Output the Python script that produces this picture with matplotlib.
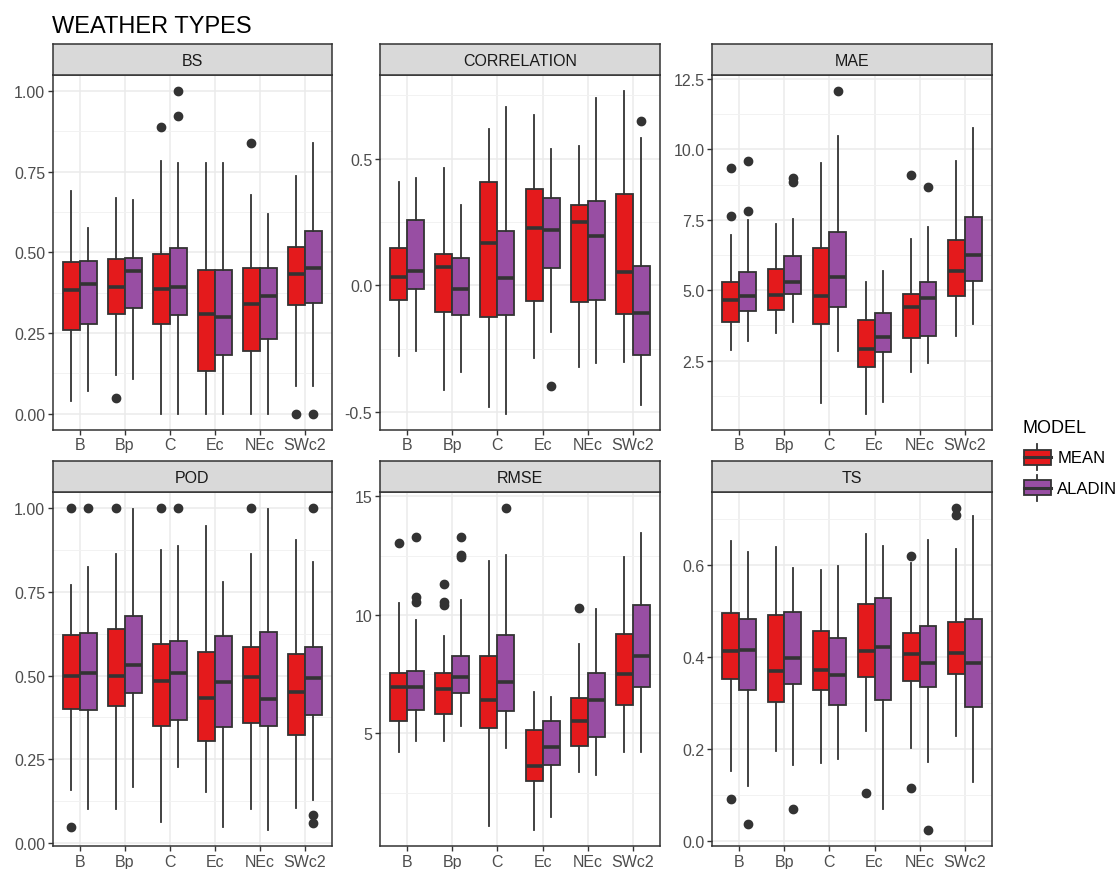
import matplotlib
matplotlib.use("Agg")
import matplotlib.pyplot as plt
from matplotlib.patches import Rectangle, Patch
from matplotlib.lines import Line2D
from matplotlib.legend_handler import HandlerBase
from matplotlib.ticker import FixedLocator, FormatStrFormatter

plt.rcParams['font.family'] = ['Liberation Sans', 'DejaVu Sans']

categories = ["B", "Bp", "C", "Ec", "NEc", "SWc2"]
models = ["MEAN", "ALADIN"]
model_colors = ["#E41A1C", "#984EA3"]

# (lower whisker, Q1, median, Q3, upper whisker) per weather type
bs_mean = [(0.040, 0.260, 0.382, 0.470, 0.690), (0.119, 0.309, 0.392, 0.479, 0.668),
           (0.000, 0.278, 0.387, 0.494, 0.783), (0.000, 0.133, 0.309, 0.444, 0.776),
           (0.000, 0.195, 0.340, 0.451, 0.678), (0.085, 0.337, 0.434, 0.517, 0.737)]
bs_aladin = [(0.069, 0.278, 0.401, 0.472, 0.575), (0.106, 0.327, 0.442, 0.484, 0.661),
             (0.000, 0.306, 0.393, 0.515, 0.776), (0.000, 0.181, 0.298, 0.444, 0.776),
             (0.000, 0.232, 0.366, 0.451, 0.619), (0.087, 0.343, 0.453, 0.567, 0.840)]
bs_mean_out = [[], [0.049], [0.890], [], [0.840], [0.0]]
bs_aladin_out = [[], [], [1.0, 0.924], [], [], [0.0]]

cor_mean = [(-0.279, -0.059, 0.034, 0.147, 0.409), (-0.413, -0.104, 0.071, 0.125, 0.464),
            (-0.482, -0.123, 0.168, 0.409, 0.619), (-0.288, -0.062, 0.228, 0.379, 0.674),
            (-0.321, -0.066, 0.249, 0.317, 0.549), (-0.301, -0.111, 0.054, 0.360, 0.767)]
cor_aladin = [(-0.260, -0.013, 0.056, 0.257, 0.425), (-0.342, -0.115, -0.016, 0.107, 0.319),
              (-0.506, -0.115, 0.028, 0.216, 0.706), (-0.185, 0.068, 0.220, 0.346, 0.540),
              (-0.308, -0.059, 0.197, 0.333, 0.740), (-0.473, -0.274, -0.109, 0.075, 0.582)]
cor_mean_out = [[], [], [], [], [], []]
cor_aladin_out = [[], [], [], [-0.397], [], [0.651]]

mae_mean = [(2.87, 3.87, 4.66, 5.29, 6.97), (3.48, 4.31, 4.82, 5.76, 7.36),
            (1.00, 3.80, 4.78, 6.50, 9.53), (0.62, 2.28, 2.91, 3.95, 5.29),
            (2.09, 3.30, 4.39, 4.86, 6.83), (3.36, 4.80, 5.69, 6.80, 9.60)]
mae_aladin = [(3.19, 4.27, 4.80, 5.64, 7.48), (3.87, 4.86, 5.30, 6.20, 7.52),
              (2.85, 4.40, 5.47, 7.05, 10.49), (1.03, 2.81, 3.35, 4.18, 5.69),
              (2.42, 3.39, 4.72, 5.29, 7.24), (3.80, 5.34, 6.26, 7.59, 10.75)]
mae_mean_out = [[7.65, 9.34], [], [], [], [9.08], []]
mae_aladin_out = [[7.80, 9.58], [8.84, 8.98], [12.07], [], [8.67], []]

pod_mean = [(0.160, 0.400, 0.499, 0.622, 0.770), (0.101, 0.408, 0.500, 0.638, 0.862),
            (0.063, 0.349, 0.484, 0.593, 0.874), (0.154, 0.304, 0.433, 0.569, 0.946),
            (0.101, 0.360, 0.497, 0.586, 0.862), (0.106, 0.324, 0.450, 0.563, 0.904)]
pod_aladin = [(0.101, 0.398, 0.509, 0.628, 0.825), (0.167, 0.448, 0.530, 0.677, 0.997),
              (0.226, 0.369, 0.509, 0.603, 0.887), (0.048, 0.347, 0.482, 0.618, 0.778),
              (0.040, 0.349, 0.431, 0.630, 0.997), (0.130, 0.383, 0.494, 0.586, 0.837)]
pod_mean_out = [[1.0, 0.049], [1.0], [1.0], [], [1.0], []]
pod_aladin_out = [[1.0], [], [1.0], [], [], [1.0, 0.085, 0.061]]

rmse_mean = [(4.23, 5.52, 6.97, 7.53, 10.52), (4.69, 5.84, 6.87, 7.53, 9.10),
             (1.10, 5.25, 6.40, 8.27, 12.26), (0.93, 3.01, 3.62, 5.14, 6.73),
             (3.38, 4.47, 5.52, 6.50, 8.79), (4.23, 6.22, 7.49, 9.21, 12.44)]
rmse_aladin = [(4.69, 5.98, 6.97, 7.65, 9.78), (5.31, 6.69, 7.39, 8.27, 10.65),
               (4.37, 5.94, 7.18, 9.17, 12.51), (1.46, 3.67, 4.41, 5.53, 6.54),
               (3.24, 4.86, 6.40, 7.57, 10.24), (4.23, 6.97, 8.27, 10.44, 13.47)]
rmse_mean_out = [[13.05], [11.32, 10.55, 10.44], [], [], [10.31], []]
rmse_aladin_out = [[13.30, 10.76, 10.55], [13.27, 12.51, 12.44], [14.52], [], [], []]

ts_mean = [(0.153, 0.353, 0.413, 0.497, 0.653), (0.196, 0.303, 0.370, 0.493, 0.640),
           (0.171, 0.328, 0.373, 0.458, 0.590), (0.241, 0.358, 0.413, 0.515, 0.668),
           (0.202, 0.348, 0.407, 0.452, 0.606), (0.229, 0.364, 0.410, 0.477, 0.636)]
ts_aladin = [(0.120, 0.328, 0.415, 0.484, 0.629), (0.166, 0.342, 0.399, 0.499, 0.595),
             (0.180, 0.296, 0.362, 0.441, 0.599), (0.070, 0.308, 0.423, 0.528, 0.643),
             (0.172, 0.335, 0.387, 0.468, 0.655), (0.130, 0.293, 0.387, 0.483, 0.708)]
ts_mean_out = [[0.092], [], [], [0.105], [0.620, 0.115], [0.725, 0.709]]
ts_aladin_out = [[0.037], [0.070], [], [], [0.025], []]

panels = [
    ("BS", bs_mean, bs_aladin, bs_mean_out, bs_aladin_out, [0, 0.25, 0.5, 0.75, 1.0], "%.2f"),
    ("CORRELATION", cor_mean, cor_aladin, cor_mean_out, cor_aladin_out, [-0.5, 0.0, 0.5], "%.1f"),
    ("MAE", mae_mean, mae_aladin, mae_mean_out, mae_aladin_out, [2.5, 5.0, 7.5, 10.0, 12.5], "%.1f"),
    ("POD", pod_mean, pod_aladin, pod_mean_out, pod_aladin_out, [0, 0.25, 0.5, 0.75, 1.0], "%.2f"),
    ("RMSE", rmse_mean, rmse_aladin, rmse_mean_out, rmse_aladin_out, [5, 10, 15], "%d"),
    ("TS", ts_mean, ts_aladin, ts_mean_out, ts_aladin_out, [0.0, 0.2, 0.4, 0.6], "%.1f"),
]

W, H = 1120, 870
fig = plt.figure(figsize=(W / 100, H / 100), dpi=100)


def box(l, t, r, b):
    return [l / W, 1 - b / H, (r - l) / W, (b - t) / H]


cols = [(52.7, 331.7), (380, 660), (712.3, 991.7)]
rows = [(45, 76, 430.7), (461.7, 492.7, 847)]
dark = "#333333"
box_w = 0.375


def make_stats(five, outs):
    return [dict(whislo=f[0], q1=f[1], med=f[2], q3=f[3], whishi=f[4], fliers=o)
            for f, o in zip(five, outs)]


for i, (name, mean5, ala5, mean_out, ala_out, yt, fmt) in enumerate(panels):
    l, r = cols[i % 3]
    st, pt, pb = rows[i // 3]
    ax = fig.add_axes(box(l, pt, r, pb))
    strip = fig.add_axes(box(l, st, r, pt))
    strip.set_facecolor("#D9D9D9")
    strip.set_xticks([])
    strip.set_yticks([])
    for s in strip.spines.values():
        s.set_color(dark)
        s.set_linewidth(1.1)
    strip.text(0.5, 0.47, name, ha="center", va="center", fontsize=11.5, color="#1A1A1A",
               transform=strip.transAxes)

    pos = list(range(1, len(categories) + 1))
    for k, (five, outs) in enumerate([(mean5, mean_out), (ala5, ala_out)]):
        offs = -box_w / 2 if k == 0 else box_w / 2
        ax.bxp(make_stats(five, outs), positions=[p + offs for p in pos], widths=box_w,
               patch_artist=True, showcaps=False,
               boxprops=dict(facecolor=model_colors[k], edgecolor=dark, linewidth=1.3),
               medianprops=dict(color=dark, linewidth=2.6, solid_capstyle="butt"),
               whiskerprops=dict(color=dark, linewidth=1.3),
               flierprops=dict(marker="o", markerfacecolor=dark, markeredgecolor=dark,
                               markersize=6))

    allv = [v for f in mean5 + ala5 for v in f] + [v for o in mean_out + ala_out for v in o]
    lo, hi = min(allv), max(allv)
    pad = (hi - lo) * 0.05
    ax.set_ylim(lo - pad, hi + pad)
    ax.set_xlim(0.4, 6.6)
    ax.set_xticks(pos)
    ax.set_xticklabels(categories)
    ax.yaxis.set_major_locator(FixedLocator(yt))
    ax.yaxis.set_major_formatter(FormatStrFormatter(fmt))
    step = yt[1] - yt[0]
    minors = [yt[0] - step / 2] + [v + step / 2 for v in yt]
    ax.yaxis.set_minor_locator(FixedLocator(minors))
    ax.grid(True, which="major", color="#EBEBEB", linewidth=1.1)
    ax.grid(True, which="minor", axis="y", color="#F2F2F2", linewidth=0.7)
    ax.set_axisbelow(True)
    ax.tick_params(which="major", length=3.5, width=1.0, color=dark, labelsize=11.5,
                   labelcolor="#4D4D4D", pad=2)
    ax.tick_params(which="minor", length=0)
    for s in ax.spines.values():
        s.set_color(dark)
        s.set_linewidth(1.1)

fig.text(52 / W, 1 - 33 / H, "WEATHER TYPES", fontsize=17, ha="left", va="baseline")


class BoxKey(HandlerBase):
    def create_artists(self, legend, orig, xd, yd, w, h, fontsize, trans):
        x0, y0 = -xd, -yd
        arts = [Line2D([x0 + w / 2] * 2, [y0 + h * 0.08, y0 + h * 0.25], color=dark, lw=1.3,
                       transform=trans),
                Line2D([x0 + w / 2] * 2, [y0 + h * 0.75, y0 + h * 0.92], color=dark, lw=1.3,
                       transform=trans),
                Rectangle((x0, y0 + h * 0.25), w, h * 0.5, facecolor=orig.get_facecolor(),
                          edgecolor=dark, lw=1.3, transform=trans),
                Line2D([x0, x0 + w], [y0 + h / 2] * 2, color=dark, lw=2.2, transform=trans)]
        return arts


fig.text(1022 / W, 1 - 433 / H, "MODEL", fontsize=13, ha="left", va="baseline")
handles = [Patch(facecolor=c, label=m) for m, c in zip(models, model_colors)]
fig.legend(handles=handles, labels=models, loc="upper left",
           bbox_to_anchor=(1024 / W, 1 - 443 / H), frameon=False, fontsize=12,
           handler_map={Patch: BoxKey()},
           handlelength=1.6, handleheight=2.4, handletextpad=0.4, labelspacing=0.05,
           borderpad=0, borderaxespad=0)

fig.savefig("out.png", dpi=100)
